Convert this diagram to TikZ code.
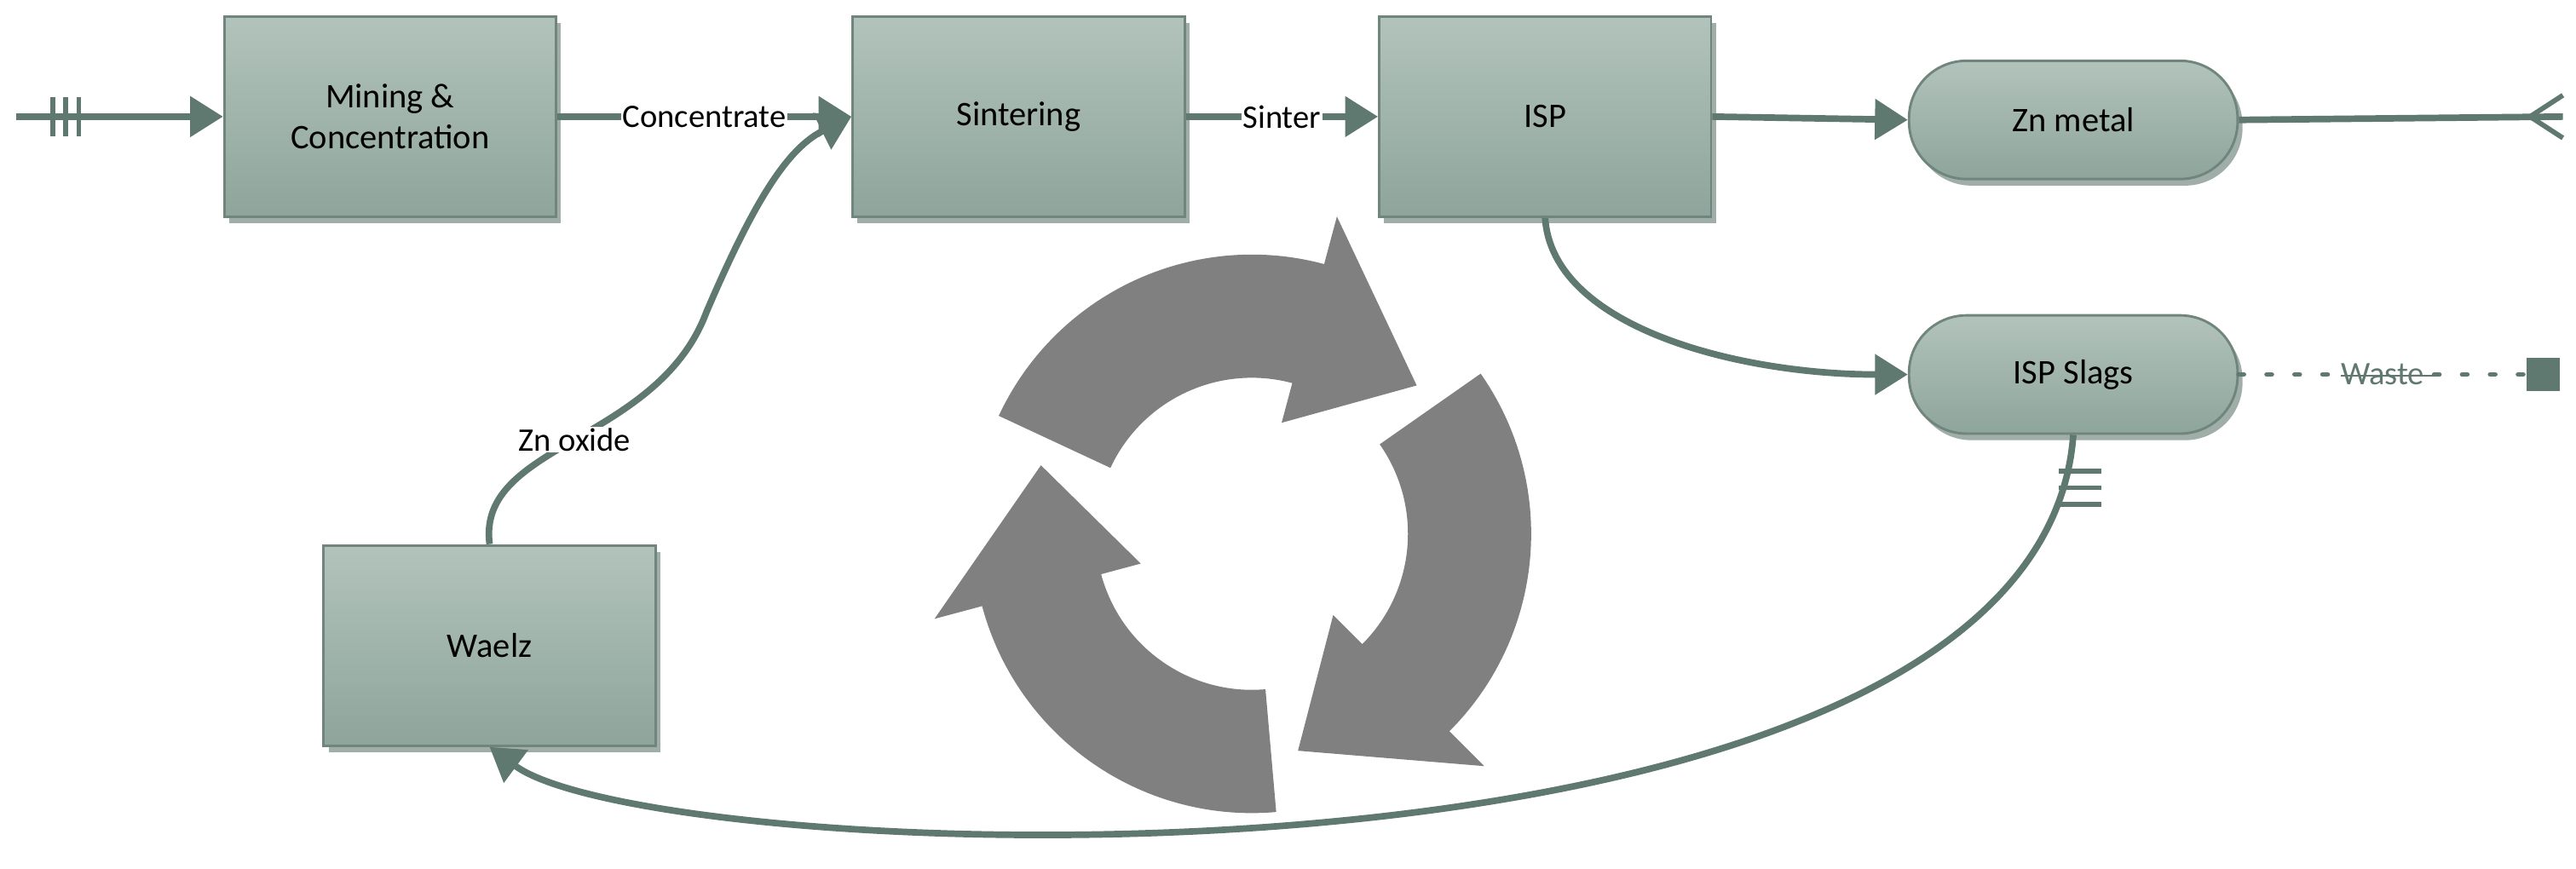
\documentclass[tikz,border=0pt]{standalone}
\usepackage{fontspec}
\setmainfont{Carlito}
\usetikzlibrary{arrows.meta,shadows}
\definecolor{ln}{HTML}{5F7870}
\definecolor{bt}{HTML}{B2C3BB}
\definecolor{bb}{HTML}{8EA59B}
\definecolor{rc}{HTML}{808080}
\begin{document}
\begin{tikzpicture}[x=1pt,y=1pt,
 box/.style={draw=ln!90,line width=1.5pt,top color=bt,bottom color=bb,minimum width=202pt,minimum height=122pt,font=\fontsize{21}{25}\selectfont,align=center,drop shadow={shadow xshift=3pt,shadow yshift=-4pt,fill=ln,opacity=.6}},
 pill/.style={box,rounded corners=35pt,minimum width=200pt,minimum height=72pt},
 fl/.style={draw=ln,line width=4pt},
 arr/.style={fl,-{Triangle[length=20pt,width=24pt]}},
 lab/.style={font=\fontsize{20}{24}\selectfont,fill=white,inner sep=1pt}]
\useasboundingbox (0,0) rectangle (1568,-529);
\node[box] (mc) at (237.5,-71) {Mining \&\\Concentration};
\node[box] (si) at (620,-71) {Sintering};
\node[box] (isp) at (940.5,-71) {ISP};
\node[pill] (zn) at (1262,-73) {Zn metal};
\node[pill] (sl) at (1262,-228) {ISP Slags};
\node[box] (wa) at (298,-393) {Waelz};
\coordinate (st) at (10,-71);
\coordinate (en) at (1560,-71);
\node[fill=ln,minimum size=20pt,inner sep=0pt] (sq) at (1548,-228) {};
% flows
\draw[arr] (st) -- (mc.west);
\foreach \x in {32,40,48} \draw[ln,line width=3pt] (\x,-59) -- (\x,-83);
\draw[arr] (mc.east) -- node[lab]{Concentrate} (si.west);
\draw[arr] (si.east) -- node[lab]{Sinter} (isp.west);
\draw[arr] (isp.east) -- (zn.west);
\draw[fl] (zn.east) -- (en);
\draw[ln,line width=3pt] (1540,-71) -- (1560,-58) (1540,-71) -- (1560,-84);
\draw[arr] (isp.south) .. controls (945,-200) and (1060,-228) .. (sl.west);
\draw[ln,line width=3pt,dash pattern=on 3pt off 14pt,line cap=round] (sl.east) -- node[font=\fontsize{20}{24}\selectfont,fill=white,inner sep=1pt]{\rlap{\rule[5pt]{58pt}{1.2pt}}Waste} (sq.west);
\draw[arr] (sl.south) .. controls (1240,-560) and (400,-530) .. (wa.south);
\foreach \y in {-287,-297,-307} \draw[ln,line width=3pt] (1253,\y) -- (1279,\y);
\draw[arr] (wa.north) .. controls (290,-270) and (400,-270) .. node[pos=0.5,lab]{Zn oxide} (430,-190) .. controls (460,-120) and (480,-90) .. (si.west);
% recycle symbol
\begin{scope}[shift={(762,-325)}]
\foreach \r in {0,120,240}{
 \fill[rc,rotate=\r] (155:95) arc[start angle=155,end angle=75,radius=95] -- (75:70) -- (42:135) -- (75:200) -- (75:170) arc[start angle=75,end angle=155,radius=170] -- cycle;
}
\end{scope}
\end{tikzpicture}
\end{document}
